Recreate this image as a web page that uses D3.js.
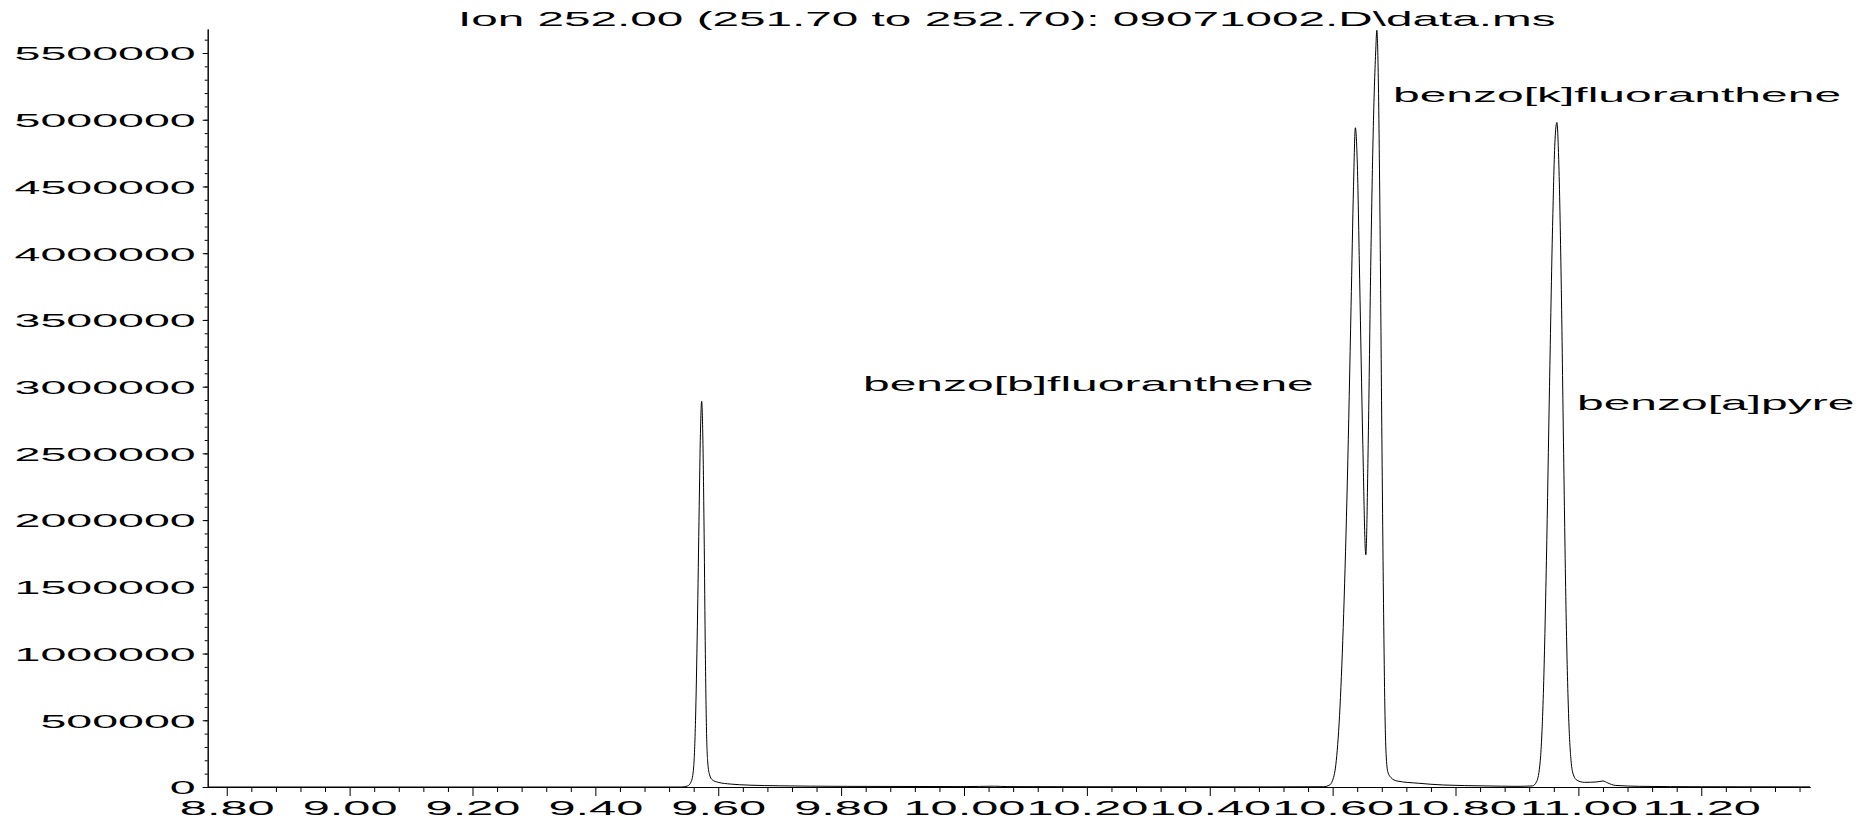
<!DOCTYPE html>
<html>
<head>
<meta charset="utf-8">
<script src="https://cdn.jsdelivr.net/npm/d3@7"></script>
<style>
  html, body { margin: 0; padding: 0; background: #fff; }
  svg { display: block; }
  text { font-family: "Liberation Sans", Arial, sans-serif; fill: #000; }
</style>
</head>
<body>
<svg id="chart" width="1871" height="819"></svg>
<script>
const times = [
  8.770, 9.540, 9.550, 9.556, 9.560, 9.563, 9.566, 9.569, 9.571, 9.573,
  9.575, 9.577, 9.579, 9.581, 9.583, 9.586, 9.590, 9.600, 9.620, 9.650,
  9.700, 9.800, 10.000, 10.050, 10.070, 10.200, 10.500, 10.585, 10.594, 10.600,
  10.606, 10.612, 10.618, 10.624, 10.630, 10.634, 10.637, 10.640, 10.644, 10.649,
  10.654, 10.658, 10.662, 10.666, 10.670, 10.672, 10.674, 10.677, 10.680, 10.683,
  10.685, 10.687, 10.690, 10.695, 10.705, 10.740, 10.780, 10.850, 10.900, 10.925,
  10.932, 10.938, 10.943, 10.948, 10.953, 10.958, 10.962, 10.965, 10.968, 10.972,
  10.976, 10.980, 10.984, 10.988, 10.992, 10.998, 11.010, 11.030, 11.040, 11.048,
  11.060, 11.100, 11.200, 11.377
];
const abundance = [
  0, 0, 8000, 40000, 150000, 500000, 1200000, 2100000, 2650000, 2890000,
  2600000, 1900000, 1000000, 400000, 180000, 90000, 55000, 35000, 22000, 14000,
  9000, 5000, 3000, 6000, 3000, 2000, 1000, 2000, 12000, 50000,
  200000, 600000, 1300000, 2300000, 3600000, 4500000, 4940000, 4700000, 3800000, 2600000,
  1740000, 2600000, 3900000, 4900000, 5500000, 5670000, 5400000, 4300000, 2700000, 1300000,
  600000, 250000, 110000, 70000, 45000, 28000, 15000, 8000, 5000, 8000,
  40000, 200000, 700000, 1700000, 3000000, 4200000, 4850000, 4980000, 4700000, 3800000,
  2500000, 1300000, 550000, 200000, 90000, 50000, 35000, 38000, 45000, 30000,
  12000, 5000, 2000, 1000
];

const xTicks = [8.80, 9.00, 9.20, 9.40, 9.60, 9.80, 10.00, 10.20, 10.40, 10.60, 10.80, 11.00, 11.20];
const xTickLabels = ['8.80', '9.00', '9.20', '9.40', '9.60', '9.80', '10.00', '10.20', '10.40', '10.60', '10.80', '11.00', '11.20'];
const yTicks = [0, 500000, 1000000, 1500000, 2000000, 2500000, 3000000, 3500000, 4000000, 4500000, 5000000, 5500000];
const yTickLabels = ['0', '500000', '1000000', '1500000', '2000000', '2500000', '3000000', '3500000', '4000000', '4500000', '5000000', '5500000'];

const title = 'Ion 252.00 (251.70 to 252.70): 09071002.D\\data.ms';
const peakNames = ['benzo[b]fluoranthene', 'benzo[k]fluoranthene', 'benzo[a]pyre'];

// --- Mise en page
const svg = d3.select('#chart');
const W = 1871, H = 819;
const stretch = 2.4; // le texte de l'original est étiré horizontalement

const x = d3.scaleLinear().domain([8.769, 11.377]).range([207.7, 1810]);
const y = d3.scaleLinear().domain([0, 5680000]).range([787, 29]);

svg.append('rect').attr('width', W).attr('height', H).attr('fill', '#fff');

// axe Y (mineures puis majeures)
const yMinor = d3.range(0, 5680000, 100000);
svg.append('g').attr('transform', `translate(${x.range()[0]},0)`)
  .call(d3.axisLeft(y).tickValues(yMinor).tickSize(3).tickSizeOuter(0).tickFormat(''))
  .call(g => g.selectAll('line,path').attr('stroke', '#000'));
const gy = svg.append('g').attr('transform', `translate(${x.range()[0]},0)`)
  .call(d3.axisLeft(y).tickValues(yTicks).tickSize(5).tickSizeOuter(0)
    .tickFormat((d, i) => yTickLabels[i]));
gy.select('.domain').attr('stroke', '#000');
gy.selectAll('line').attr('stroke', '#000');
gy.selectAll('text')
  .attr('x', null).attr('dy', '0.36em')
  .attr('font-size', 19)
  .attr('text-anchor', 'end')
  .attr('transform', `translate(-12,0) scale(2.45,1)`)
  .style('font-family', '"Liberation Sans", Arial, sans-serif');

// axe X
const xMinor = d3.range(8.80, 11.377, 0.04).filter(v => Math.abs(v / 0.2 - Math.round(v / 0.2)) > 0.01);
svg.append('g').attr('transform', `translate(0,${y(0)})`)
  .call(d3.axisBottom(x).tickValues(xMinor).tickSize(5).tickSizeOuter(0).tickFormat(''))
  .call(g => g.selectAll('line,path').attr('stroke', '#000'));
const gx = svg.append('g').attr('transform', `translate(0,${y(0)})`)
  .call(d3.axisBottom(x).tickValues(xTicks).tickSize(9).tickSizeOuter(0)
    .tickFormat((d, i) => xTickLabels[i]));
gx.select('.domain').attr('stroke', '#000');
gx.selectAll('line').attr('stroke', '#000');
gx.selectAll('text')
  .attr('y', null).attr('dy', null)
  .attr('font-size', 19.5)
  .attr('transform', `translate(0,28) scale(2.5,1)`)
  .style('font-family', '"Liberation Sans", Arial, sans-serif');

// tracé du chromatogramme
const pts = times.map((t, i) => [t, abundance[i]]);
svg.append('path')
  .datum(pts)
  .attr('fill', 'none')
  .attr('stroke', '#000')
  .attr('stroke-width', 1)
  .attr('d', d3.line().x(d => x(d[0])).y(d => y(d[1])).curve(d3.curveMonotoneX));

// titre
svg.append('text')
  .attr('transform', `translate(458,26) scale(2.385,1)`)
  .attr('font-size', 20)
  .text(title);

// étiquettes des pics
const labelPos = [[863, 391], [1393, 102], [1577, 410]];
svg.selectAll('text.peak').data(peakNames).join('text')
  .attr('class', 'peak')
  .attr('transform', (d, i) => `translate(${labelPos[i][0]},${labelPos[i][1]}) scale(${stretch},1)`)
  .attr('font-size', 20)
  .text(d => d);
</script>
</body>
</html>
